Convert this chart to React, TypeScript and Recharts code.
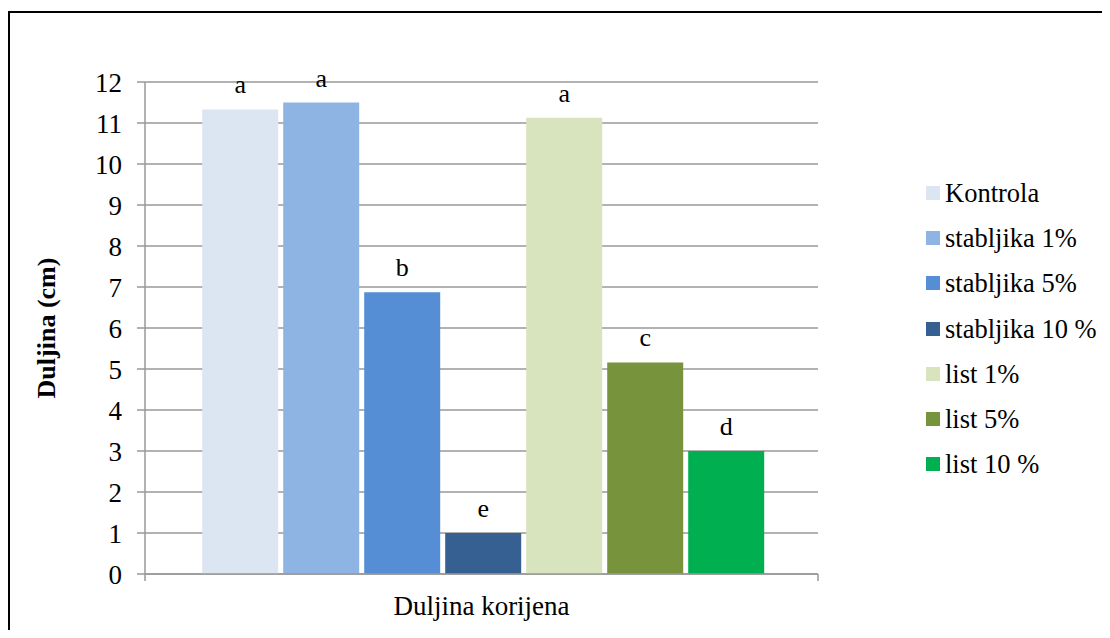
import React from 'react';
import { BarChart, Bar, XAxis, YAxis, CartesianGrid, Legend, LabelList, Label } from 'recharts';

const category = 'Duljina korijena';
const seriesNames = ['Kontrola', 'stabljika 1%', 'stabljika 5%', 'stabljika 10 %', 'list 1%', 'list 5%', 'list 10 %'];
const seriesValues = [11.33, 11.5, 6.87, 1.0, 11.13, 5.16, 3.0];
const letters = ['a', 'a', 'b', 'e', 'a', 'c', 'd'];
const yTicks = [0, 1, 2, 3, 4, 5, 6, 7, 8, 9, 10, 11, 12];

const colors = ['#DCE6F2', '#8EB4E3', '#558ED5', '#366092', '#D7E4BD', '#77933C', '#00B050'];

const FONT = 'Liberation Serif, Tinos, Times New Roman, serif';
const GRID = '#989898';

// one row, one key per series plus its significance letter
const row: Record<string, string | number> = { name: category };
seriesValues.forEach((v, i) => {
  row[`s${i}`] = v;
  row[`l${i}`] = letters[i];
});
const data = [row];

// category label plus Excel-style boundary tick marks
function XTick(props: any) {
  const { x, y, payload, width } = props;
  const half = typeof width === 'number' ? width / 2 : null;
  return (
    <g>
      {half !== null && (
        <>
          <line x1={x - half} x2={x - half} y1={y} y2={y + 7} stroke={GRID} strokeWidth={1.5} />
          <line x1={x + half} x2={x + half} y1={y} y2={y + 7} stroke={GRID} strokeWidth={1.5} />
        </>
      )}
      <text x={x} y={y + 41} textAnchor="middle" style={{ fontFamily: FONT }} fontSize={27} fill="#000">
        {payload.value}
      </text>
    </g>
  );
}

// legend in series order (recharts would sort it by name)
function LegendBox() {
  return (
    <div>
      {seriesNames.map((n, i) => (
        <div key={n} style={{ height: 45.2, display: 'flex', alignItems: 'center' }}>
          <span style={{ width: 14, height: 14, background: colors[i], display: 'inline-block' }} />
          <span style={{ marginLeft: 5, fontFamily: FONT, fontSize: 26.5, lineHeight: '26px', color: '#000', whiteSpace: 'nowrap' }}>
            {n}
          </span>
        </div>
      ))}
    </div>
  );
}

export default function App() {
  return (
    <div style={{ position: 'relative', width: 1094, height: 622, fontFamily: FONT }}>
      <div
        style={{
          position: 'absolute',
          left: 0,
          top: 3,
          width: 1102,
          height: 619,
          boxSizing: 'border-box',
          borderLeft: '2px solid #000',
          borderTop: '2px solid #000',
        }}
      />
      <div style={{ position: 'absolute', left: -8, top: -8 }}>
        <BarChart
          width={1110}
          height={630}
          data={data}
          margin={{ top: 82, right: 292, bottom: 55, left: 0 }}
          barCategoryGap="8.5%"
          barGap={5}
          style={{ fontFamily: FONT }}
        >
          <CartesianGrid vertical={false} stroke={GRID} strokeWidth={1.5} />
          <XAxis
            dataKey="name"
            height={1}
            axisLine={{ stroke: GRID, strokeWidth: 1.5 }}
            tickLine={false}
            tickSize={0}
            tickMargin={0}
            tick={<XTick />}
            interval={0}
          />
          <YAxis
            width={145}
            domain={[0, 12]}
            ticks={yTicks}
            interval={0}
            axisLine={{ stroke: GRID, strokeWidth: 1.5 }}
            tickLine={{ stroke: GRID, strokeWidth: 1.5 }}
            tickSize={8}
            tickMargin={15}
            tick={{ fontSize: 27, fill: '#000', style: { fontFamily: FONT } }}
          >
            <Label
              content={({ viewBox }: any) => {
                const cx = (viewBox?.x ?? 0) + 46;
                const cy = (viewBox?.y ?? 0) + (viewBox?.height ?? 0) / 2;
                return (
                  <text
                    x={cx}
                    y={cy}
                    dy="0.35em"
                    textAnchor="middle"
                    transform={`rotate(-90, ${cx}, ${cy})`}
                    style={{ fontFamily: FONT }}
                    fontSize={26}
                    fontWeight="bold"
                    fill="#000"
                  >
                    Duljina (cm)
                  </text>
                );
              }}
            />
          </YAxis>
          <Legend
            layout="horizontal"
            verticalAlign="middle"
            align="center"
            content={<LegendBox />}
            wrapperStyle={{ left: 926, top: 170.5, width: 'auto', right: 'auto' }}
          />
          {seriesNames.map((n, i) => (
            <Bar key={n} dataKey={`s${i}`} name={n} fill={colors[i]} isAnimationActive={false}>
              <LabelList
                dataKey={`l${i}`}
                position="top"
                offset={16}
                style={{ fontFamily: FONT }}
                fontSize={26}
                fill="#000"
              />
            </Bar>
          ))}
        </BarChart>
      </div>
    </div>
  );
}
